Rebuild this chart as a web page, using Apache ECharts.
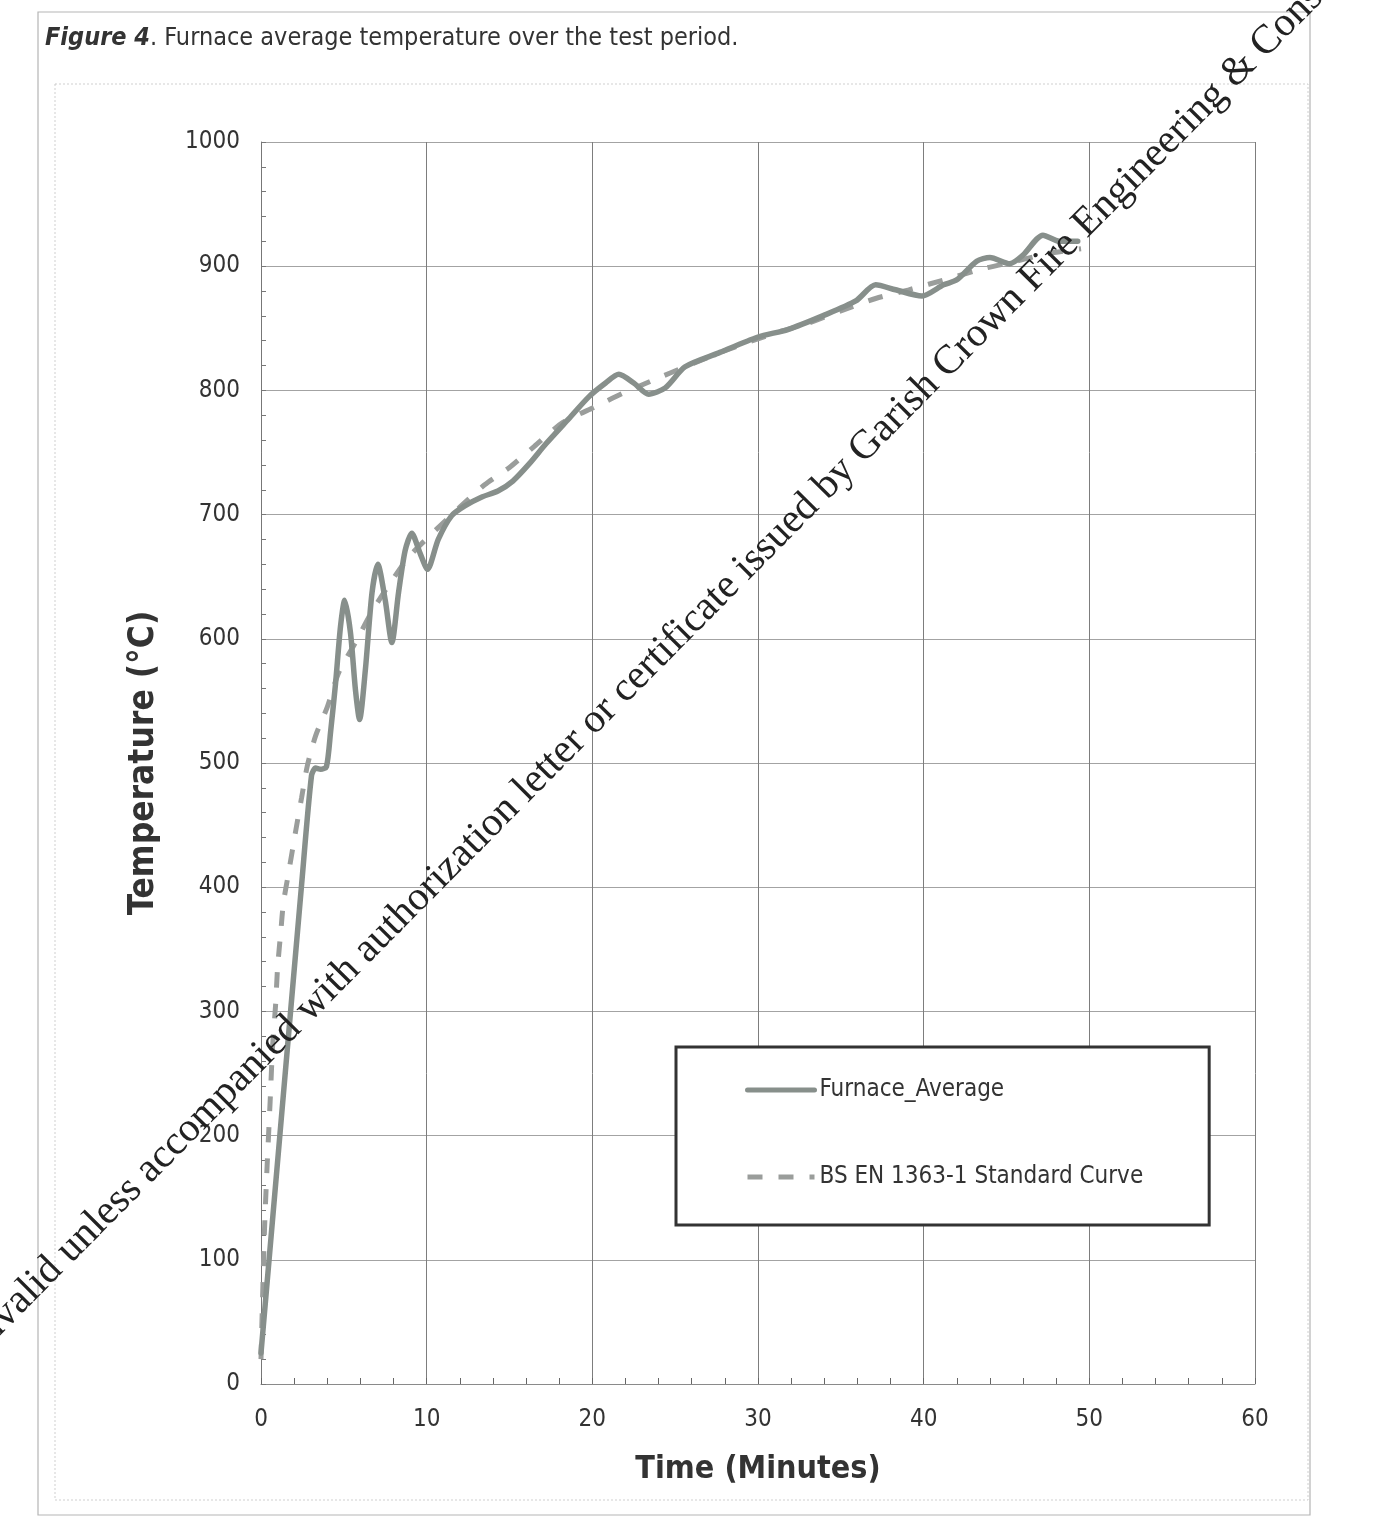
<!DOCTYPE html>
<html>
<head>
<meta charset="utf-8">
<script src="https://cdn.jsdelivr.net/npm/echarts@6/dist/echarts.min.js"></script>
<style>
  html, body { margin: 0; padding: 0; background: #fff; }
  #chart { width: 1376px; height: 1528px; }
</style>
</head>
<body>
<div id="chart"></div>
<script>
// ---- data ----
const xTickLabels = ['0', '10', '20', '30', '40', '50', '60'];
const yTickLabels = ['0', '100', '200', '300', '400', '500', '600', '700', '800', '900', '1000'];

const furnaceTime = [0, 1.15, 2.45, 3.05, 3.3, 3.6, 3.95, 4.2, 4.5, 4.8, 5.05, 5.4, 5.7, 5.95, 6.3, 6.7, 7.05, 7.5, 7.9, 8.3, 8.7, 9.1, 9.6, 10.05, 10.7, 11.5, 12.3, 13.3, 14.3, 15.2, 16.2, 17.2, 18.5, 19.8, 20.8, 21.6, 22.5, 23.4, 24.4, 25.6, 27.6, 30.0, 31.8, 33.9, 35.9, 37.1, 38.3, 39.9, 41.2, 42.0, 43.2, 44.0, 45.2, 46.0, 47.2, 48.2, 49.3];
const furnaceTemp = [25, 202, 402, 490, 496, 495, 497, 525, 564, 610, 631, 605, 559, 535, 575, 637, 660, 631, 597, 637, 671, 685, 669, 656, 680, 699, 707, 714, 719, 727, 741, 757, 776, 795, 806, 813, 806, 797, 802, 819, 830, 843, 849, 860, 872, 885, 881, 876, 885, 889, 904, 907, 902, 909, 925, 920, 920];

const standardTime = [0, 0.2, 0.35, 0.55, 0.7, 0.88, 1.0, 1.2, 1.35, 1.67, 2.09, 2.45, 2.8, 3.3, 4.0, 4.7, 5.7, 6.7, 7.8, 9.0, 10.5, 12.0, 13.5, 15.0, 16.5, 18.2, 20.2, 21.9, 23.8, 25.6, 28.0, 31.0, 33.0, 35.0, 37.1, 39.1, 41.5, 43.6, 45.6, 47.4, 49.5];
const standardTemp = [20, 120, 170, 227, 272, 305, 335, 365, 387, 412, 445, 472, 498, 522, 545, 573, 597, 622, 645, 667, 687, 706, 724, 738, 755, 774, 787, 798, 809, 819, 832, 846, 854, 864, 874, 881, 890, 898, 904, 910, 914];

const seriesNames = ['Furnace_Average', 'BS EN 1363-1 Standard Curve'];
// -----------------------------------

const NARROW = '"Liberation Sans Narrow", "Arial Narrow", "DejaVu Sans Condensed", sans-serif';
const pairs = (xs, ys) => xs.map((x, i) => [x, ys[i]]);

const chart = echarts.init(document.getElementById('chart'), null, { renderer: 'canvas' });

const option = {
  backgroundColor: '#ffffff',
  animation: false,
  title: {
    left: 40, top: 21,
    text: '{b|Figure 4}{r|. Furnace average temperature over the test period.}',
    textStyle: {
      fontWeight: 'normal',
      rich: {
        b: { fontFamily: NARROW, fontSize: 25, fontWeight: 'bold', fontStyle: 'italic', color: '#333' },
        r: { fontFamily: NARROW, fontSize: 25, fontWeight: 'normal', color: '#333' }
      }
    }
  },
  grid: { left: 261, top: 142, width: 994, height: 1242, containLabel: false },
  xAxis: {
    type: 'value', min: 0, max: 60, interval: 10,
    name: 'Time (Minutes)', nameLocation: 'middle', nameGap: 70,
    nameTextStyle: { fontFamily: NARROW, fontSize: 32, fontWeight: 'bold', color: '#333' },
    axisLine: { show: true, lineStyle: { color: '#8a8a8a', width: 1 } },
    axisTick: { show: true, inside: true, length: 6, lineStyle: { color: '#666' } },
    minorTick: { show: true, splitNumber: 5, length: 6, lineStyle: { color: '#666' } },
    axisLabel: {
      margin: 24, fontFamily: NARROW, fontSize: 24, color: '#333',
      formatter: (v) => xTickLabels[Math.round(v / 10)]
    },
    splitLine: { show: true, lineStyle: { color: '#7d7d7d', width: 1 } }
  },
  yAxis: {
    type: 'value', min: 0, max: 1000, interval: 100,
    name: 'Temperature (°C)', nameLocation: 'middle', nameGap: 100,
    nameTextStyle: { fontFamily: NARROW, fontSize: 35, fontWeight: 'bold', color: '#333' },
    axisLine: { show: true, lineStyle: { color: '#777', width: 1 } },
    axisTick: { show: true, inside: true, length: 5, lineStyle: { color: '#777' } },
    minorTick: { show: true, splitNumber: 5, length: 5, lineStyle: { color: '#777' } },
    axisLabel: {
      margin: 21, fontFamily: NARROW, fontSize: 24, color: '#333',
      formatter: (v) => yTickLabels[Math.round(v / 100)]
    },
    splitLine: { show: true, lineStyle: { color: '#a3a3a3', width: 1 } }
  },
  legend: {
    left: 676, top: 1047,
    orient: 'vertical',
    data: seriesNames,
    backgroundColor: '#ffffff',
    borderColor: '#333', borderWidth: 3,
    padding: [30, 66, 35, 69],
    itemGap: 61,
    itemWidth: 67, itemHeight: 26,
    itemStyle: { opacity: 0 },
    lineStyle: { width: 5 },
    textStyle: { fontFamily: NARROW, fontSize: 24, color: '#333', lineHeight: 26 }
  },
  series: [
    {
      name: seriesNames[0], type: 'line',
      data: pairs(furnaceTime, furnaceTemp),
      showSymbol: false, symbol: 'none',
      smooth: 0.25,
      lineStyle: { color: '#878f8b', width: 5.5, cap: 'round', join: 'round' },
      itemStyle: { color: '#878f8b' },
      z: 3
    },
    {
      name: seriesNames[1], type: 'line',
      data: pairs(standardTime, standardTemp),
      showSymbol: false, symbol: 'none',
      smooth: 0.25,
      lineStyle: { color: '#9a9d9b', width: 5, type: [15, 16] },
      itemStyle: { color: '#9a9d9b' },
      z: 2
    }
  ],
  graphic: [
    { type: 'rect', silent: true, z: -10,
      shape: { x: 38, y: 12, width: 1272, height: 1503 },
      style: { fill: 'none', stroke: '#b5b5b5', lineWidth: 1.2 } },
    { type: 'rect', silent: true, z: -10,
      shape: { x: 55, y: 84, width: 1253, height: 1416 },
      style: { fill: 'none', stroke: '#cfcfcf', lineWidth: 1, lineDash: [2, 2] } },
    { type: 'text', silent: true, z: 100,
      x: 684, y: 630, rotation: 0.79,
      style: {
        text: 'Invalid unless accompanied with authorization letter or certificate issued by Garish Crown Fire Engineering & Consultants',
        font: '41px "Liberation Serif", "DejaVu Serif", serif',
        fill: '#222', align: 'center', verticalAlign: 'middle'
      } }
  ]
};

chart.setOption(option);
</script>
</body>
</html>
